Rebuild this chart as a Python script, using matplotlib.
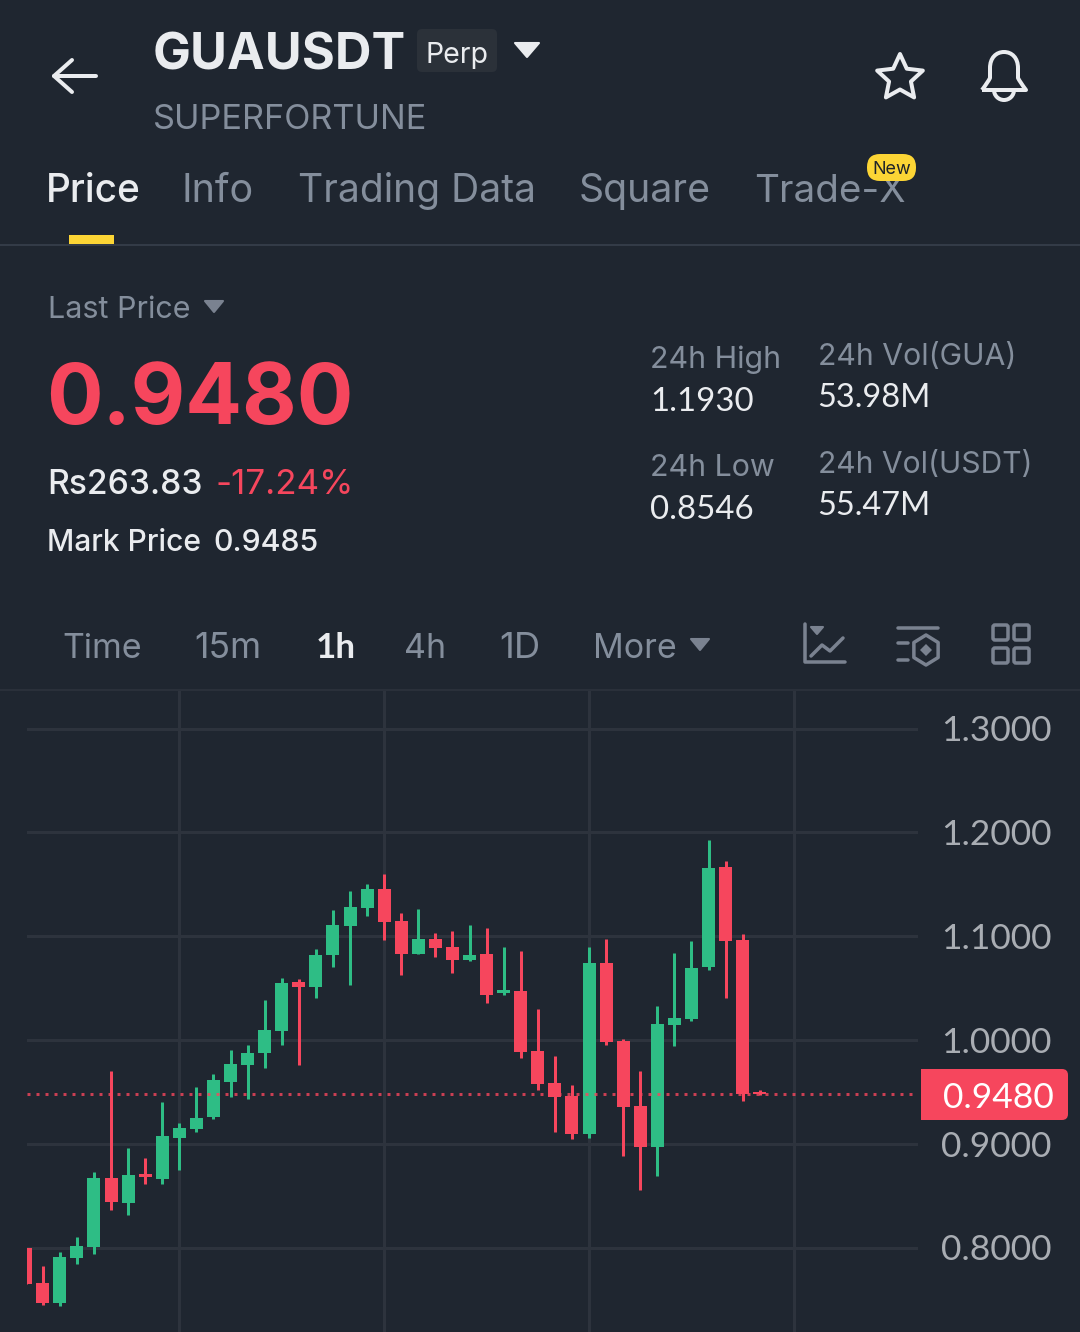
import matplotlib
matplotlib.use("Agg")
import matplotlib.pyplot as plt
import numpy as np
from matplotlib.patches import Arc, FancyBboxPatch, PathPatch, Polygon, Rectangle
from matplotlib.path import Path

# candles, oldest first
opens = [0.8000, 0.7657, 0.7465, 0.7901, 0.8003, 0.8667, 0.8429, 0.8705, 0.8657, 0.9051, 0.9138,
         0.9253, 0.9599, 0.9763, 0.9869, 1.0090, 1.0561, 1.0513, 1.0821, 1.1099, 1.1272, 1.1455,
         1.1147, 1.0830, 1.0974, 1.0897, 1.0772, 1.0830, 1.0455, 1.0474, 0.9897, 0.9580, 0.9455,
         0.9090, 1.0744, 0.9994, 0.9359, 0.8965, 1.0147, 1.0205, 1.0705, 1.1667, 1.0965, 0.9495]
closes = [0.7651, 0.7465, 0.7907, 0.8013, 0.8667, 0.8439, 0.8696, 0.8683, 0.9071, 0.9147, 0.9244,
          0.9609, 0.9772, 0.9878, 1.0099, 1.0551, 1.0513, 1.0821, 1.1109, 1.1282, 1.1455, 1.1138,
          1.0830, 1.0974, 1.0888, 1.0772, 1.0821, 1.0436, 1.0484, 0.9888, 0.9571, 0.9446, 0.9090,
          1.0744, 0.9984, 0.9349, 0.8965, 1.0157, 1.0215, 1.0696, 1.1657, 1.0955, 0.9474, 0.9480]
highs = [0.8000, 0.7821, 0.7952, 0.8099, 0.8731, 0.9696, 0.8955, 0.8859, 0.9397, 0.9196, 0.9551,
         0.9676, 0.9907, 0.9955, 1.0388, 1.0599, 1.0590, 1.0878, 1.1253, 1.1436, 1.1503, 1.1599,
         1.1224, 1.1263, 1.1032, 1.1051, 1.1109, 1.1080, 1.0897, 1.0859, 1.0301, 0.9849, 0.9561,
         1.0897, 1.0974, 1.0013, 0.9705, 1.0330, 1.0840, 1.0955, 1.1926, 1.1724, 1.1022, 0.9522]
lows = [0.7651, 0.7449, 0.7439, 0.7840, 0.7936, 0.8362, 0.8314, 0.8609, 0.8609, 0.8744, 0.9109,
        0.9234, 0.9446, 0.9426, 0.9734, 0.9955, 0.9763, 1.0407, 1.0705, 1.0532, 1.1196, 1.0965,
        1.0628, 1.0830, 1.0801, 1.0647, 1.0763, 1.0359, 1.0436, 0.9821, 0.9522, 0.9109, 0.9042,
        0.9051, 0.9955, 0.8878, 0.8551, 0.8686, 0.9946, 1.0186, 1.0676, 1.0407, 0.9407, 0.9465]
last_price = 0.9480
price_ticks = [0.8, 0.9, 1.0, 1.1, 1.2, 1.3]
time_grid = [9, 21, 33, 45]

BG = "#1F2630"
GRID = "#2D333D"
UP = "#2EBD85"
DOWN = "#F6465D"
WHITE = "#EAECEF"
GRAY = "#848E9C"
ICON = "#7A8290"
NUM_FONT = "Lato"  # its digits all have one width, as in the picture
W, H = 1080, 1332
PX = 0.72  # one pixel in points at dpi 100

plt.rcParams["font.family"] = ["Inter", "DejaVu Sans"]

fig = plt.figure(figsize=(W / 100, H / 100), dpi=100, facecolor=BG)

# chart area, in pixels 27..918 across and 690..1332 down
ax = fig.add_axes([27 / W, 0, (918 - 27) / W, (H - 690) / H], facecolor="none")
step = 17.07
x0 = 25.7
ax.set_xlim((27 - x0) / step, (918 - x0) / step)
ax.set_ylim(0.8 - (1332 - 1247.5) / 1038, 0.8 + (1247.5 - 690) / 1038)
ax.set_yticks(price_ticks, [f"{v:.4f}" for v in price_ticks], family=[NUM_FONT, "DejaVu Sans"])
ax.set_xticks(time_grid, [])
ax.yaxis.tick_right()
ax.tick_params(length=0, pad=16.6, labelsize=25.5, labelcolor="#A9ADB3")
ax.grid(color=GRID, linewidth=3 * PX)
ax.set_axisbelow(True)
for s in ax.spines.values():
    s.set_visible(False)

o, c = np.array(opens), np.array(closes)
x = np.arange(len(o))
colors = [UP if b > a else DOWN for a, b in zip(o, c)]
ax.vlines(x, lows, highs, colors=colors, linewidth=3 * PX, zorder=2)
ax.bar(x, np.abs(c - o), bottom=np.minimum(o, c), width=13 / step, color=colors, zorder=3)
ax.plot([ax.get_xlim()[0], (915 - x0) / step], [last_price, last_price], color=DOWN, alpha=0.8,
        linewidth=3 * PX, linestyle=(0, (1, 2)), dash_capstyle="butt", zorder=4)

# everything around the chart, pixel coordinates with y going down
ui = fig.add_axes([0, 0, 1, 1], facecolor="none")
ui.set_xlim(0, W)
ui.set_ylim(H, 0)
ui.axis("off")


def label(px, py, s, size, color=WHITE, weight="normal", ha="left", zorder=3, family=None):
    ui.text(px, py, s, fontsize=size * PX, color=color, fontweight=weight, ha=ha, va="baseline", zorder=zorder,
            family=family or ["Inter", "DejaVu Sans"])


def number(px, py, s, size, color=WHITE, weight="normal"):
    label(px, py, s, size, color, weight, family=[NUM_FONT, "DejaVu Sans"])


def line(xs, ys, color=ICON, lw=3.5):
    ui.plot(xs, ys, color=color, linewidth=lw * PX, solid_capstyle="round", solid_joinstyle="round")


def triangle(x0, x1, y0, y1, color):
    ui.add_patch(Polygon([(x0, y0), (x1, y0), ((x0 + x1) / 2, y1)], closed=True, facecolor=color,
                         edgecolor=color, linewidth=1.5, joinstyle="round"))


# header
line([96, 54], [76, 76], WHITE, 4)
line([72, 54, 72], [60, 76, 92], WHITE, 4)
label(152.5, 69, "GUAUSDT", 50.5, "#EAECEF", "bold")
ui.add_patch(FancyBboxPatch((420, 32), 74, 37, boxstyle="round,pad=3,rounding_size=5", facecolor="#2B3139",
                            edgecolor="none"))
label(426, 63, "Perp", 28.5)
triangle(515, 539, 43, 57, WHITE)
label(152.5, 129, "SUPERFORTUNE", 34.3, GRAY)

angles = np.pi / 2 + np.arange(10) * np.pi / 5
radii = np.where(np.arange(10) % 2 == 0, 24, 11.5)
star = np.column_stack([900 + radii * np.cos(angles), 78 - radii * np.sin(angles)])
ui.add_patch(Polygon(star, closed=True, facecolor="none", edgecolor=WHITE, linewidth=4 * PX, joinstyle="round"))
bell = Path([(982, 90), (1026, 90), (1020, 82), (1018, 78), (1018, 68), (1018, 58), (1012, 52), (1004, 52),
             (996, 52), (990, 58), (990, 68), (990, 78), (988, 82), (982, 90)],
            [Path.MOVETO, Path.LINETO, Path.CURVE3, Path.CURVE3, Path.LINETO, Path.CURVE4, Path.CURVE4, Path.CURVE4,
             Path.CURVE4, Path.CURVE4, Path.CURVE4, Path.LINETO, Path.CURVE3, Path.CURVE3])
ui.add_patch(PathPatch(bell, facecolor="none", edgecolor=WHITE, linewidth=4 * PX, joinstyle="round"))
ui.add_patch(Arc((1004, 90), 20, 20, theta1=0, theta2=180, edgecolor=WHITE, linewidth=4 * PX))

# tabs
label(45.5, 202, "Price", 38.8, WHITE, "medium")
label(181.5, 202, "Info", 39.5, GRAY)
label(298.5, 202, "Trading Data", 39, GRAY)
label(578.5, 202, "Square", 39.3, GRAY)
label(754.5, 202, "Trade-X", 38.6, GRAY)
ui.add_patch(FancyBboxPatch((876, 163), 31, 9, boxstyle="round,pad=9,rounding_size=13", facecolor="#FCD535",
                            edgecolor="none", zorder=5))
label(891.5, 174, "New", 18, "#1E2329", "normal", ha="center", zorder=6)
ui.add_patch(Rectangle((69, 235), 45, 9, facecolor="#FCD535", edgecolor="none"))
ui.add_patch(Rectangle((0, 244), W, 2, facecolor="#333B47", edgecolor="none"))

# price panel
label(48, 318, "Last Price", 30.5, GRAY)
triangle(205, 223, 301, 312, ICON)
label(46.5, 424, "0.9480", 84, DOWN, "bold")
label(47, 494, "Rs263.83", 33.6, WHITE, "medium")
label(215, 494, "-17.24%", 35, DOWN)
label(47, 551, "Mark Price", 30, WHITE, "medium")
label(213, 551, "0.9485", 30.3, WHITE, "medium")
label(650, 368, "24h High", 30.4, GRAY)
number(650, 411, "1.1930", 33)
label(650, 476, "24h Low", 30.4, GRAY)
number(650, 519, "0.8546", 33)
label(818, 365, "24h Vol(GUA)", 30.2, GRAY)
number(817, 407, "53.98M", 32.5)
label(818, 473, "24h Vol(USDT)", 30, GRAY)
number(817, 515, "55.47M", 32.5)

# interval bar
label(62.5, 658, "Time", 34, GRAY)
label(194.5, 658, "15m", 35.5, GRAY)
number(316, 658, "1h", 35, WHITE, "bold")
label(404.5, 658, "4h", 34, GRAY)
label(499.5, 658, "1D", 36.5, GRAY)
label(592.5, 658, "More", 34, GRAY)
triangle(691, 709, 639, 650, ICON)
line([805, 805, 845], [624, 662, 662])
triangle(811, 823, 627, 634, ICON)
line([811, 822, 830, 843], [656, 645, 651, 638])
line([898, 938], [628, 628])
line([898, 908], [643, 643])
line([898, 908], [660, 660])
hex_a = np.pi / 2 + np.arange(6) * np.pi / 3
ui.add_patch(Polygon(np.column_stack([926 + 14 * np.cos(hex_a), 650 + 15 * np.sin(hex_a)]), closed=True,
                     facecolor="none", edgecolor=ICON, linewidth=3.5 * PX, joinstyle="round"))
ui.add_patch(Polygon([(926, 644), (932, 650), (926, 656), (920, 650)], closed=True, facecolor=ICON, edgecolor="none"))
for sx in (993, 1014):
    for sy in (625, 648):
        ui.add_patch(FancyBboxPatch((sx, sy), 15, 15, boxstyle="round,pad=0,rounding_size=2", facecolor="none",
                                    edgecolor=ICON, linewidth=3.5 * PX))
ui.add_patch(Rectangle((0, 689), W, 2, facecolor="#2A303A", edgecolor="none"))

# last price tag
ui.add_patch(FancyBboxPatch((921, 1069), 147, 51, boxstyle="round,pad=0,rounding_size=6", facecolor=DOWN,
                            edgecolor="none"))
ui.add_patch(Rectangle((921, 1069), 20, 51, facecolor=DOWN, edgecolor="none"))
number(942.5, 1108, f"{last_price:.4f}", 35.4, "#FFFFFF")

fig.savefig("out.png", dpi=100, facecolor=BG)
